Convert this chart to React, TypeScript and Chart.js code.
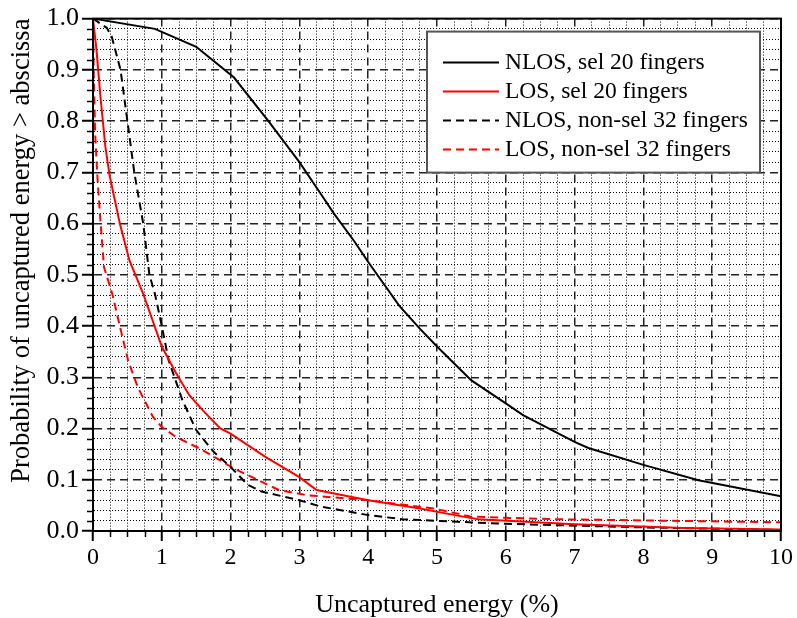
import React, { useEffect, useRef } from 'react';
import { Chart, registerables } from 'chart.js';
Chart.register(...registerables);

const FONT = '"Liberation Serif", "Times New Roman", serif';

const seriesLabels = [
  'NLOS, sel 20 fingers',
  'LOS, sel 20 fingers',
  'NLOS, non-sel 32 fingers',
  'LOS, non-sel 32 fingers',
];

const nlosSelX = [0, 0.9, 1.5, 2.05, 2.55, 3.0, 3.3, 3.5, 3.8, 4.0, 4.45, 4.75, 5.0, 5.5, 6.0, 6.25, 7.0, 7.2, 8.0, 8.8, 10];
const nlosSelY = [1.0, 0.98, 0.945, 0.885, 0.8, 0.72, 0.66, 0.62, 0.565, 0.525, 0.44, 0.395, 0.36, 0.294, 0.249, 0.226, 0.174, 0.162, 0.129, 0.099, 0.068];

const losSelX = [0, 0.05, 0.11, 0.18, 0.24, 0.39, 0.53, 0.73, 1.0, 1.2, 1.4, 1.6, 1.85, 2.0, 2.5, 3.0, 3.25, 4.0, 4.75, 5.3, 5.6, 7.0, 8.6, 10];
const losSelY = [1.0, 0.94, 0.845, 0.75, 0.695, 0.6, 0.528, 0.463, 0.36, 0.31, 0.265, 0.235, 0.2, 0.19, 0.145, 0.105, 0.08, 0.06, 0.044, 0.03, 0.023, 0.013, 0.006, 0.003];

const nlosNonSelX = [0, 0.2, 0.27, 0.4, 0.5, 0.6, 0.73, 0.82, 0.9, 1.0, 1.1, 1.3, 1.5, 1.75, 2.0, 2.25, 2.45, 3.0, 3.3, 4.0, 4.5, 5.3, 6.0, 8.0, 10];
const nlosNonSelY = [1.0, 0.982, 0.966, 0.9, 0.8, 0.7, 0.6, 0.5, 0.463, 0.4, 0.333, 0.255, 0.197, 0.155, 0.125, 0.09, 0.077, 0.06, 0.048, 0.031, 0.023, 0.018, 0.014, 0.007, 0.002];

const losNonSelX = [0, 0.01, 0.03, 0.06, 0.1, 0.16, 0.28, 0.39, 0.51, 0.65, 0.87, 1.0, 1.2, 1.55, 2.05, 2.7, 3.1, 4.0, 4.95, 5.5, 6.7, 10];
const losNonSelY = [1.0, 0.9, 0.78, 0.7, 0.62, 0.515, 0.463, 0.4, 0.333, 0.281, 0.223, 0.203, 0.184, 0.161, 0.122, 0.08, 0.07, 0.06, 0.044, 0.028, 0.023, 0.017];

const xTitle = 'Uncaptured energy (%)';
const yTitle = 'Probability of uncaptured energy > abscissa';

const pts = (xs: number[], ys: number[]) => xs.map((x, i) => ({ x, y: ys[i] }));

const isMajorX = (v: number) => Math.abs(v - Math.round(v)) < 1e-6;
const isMajorY = (v: number) => Math.abs(v * 10 - Math.round(v * 10)) < 1e-6;

const framePlugin = {
  id: 'frameAndMinorTicks',
  afterDatasetsDraw(chart: any) {
    const { ctx, chartArea } = chart;
    const { left, right, top, bottom } = chartArea;
    ctx.save();
    ctx.strokeStyle = '#000';
    ctx.lineWidth = 2;
    ctx.setLineDash([]);
    ctx.strokeRect(left, top, right - left, bottom - top);
    ctx.lineWidth = 1.5;
    const xs = chart.scales.x;
    xs.ticks.forEach((t: any) => {
      if (isMajorX(t.value)) return;
      const p = Math.round(xs.getPixelForValue(t.value)) + 0.5;
      ctx.beginPath();
      ctx.moveTo(p, bottom);
      ctx.lineTo(p, bottom + 6);
      ctx.stroke();
    });
    const ys = chart.scales.y;
    ys.ticks.forEach((t: any) => {
      if (isMajorY(t.value)) return;
      const p = Math.round(ys.getPixelForValue(t.value)) + 0.5;
      ctx.beginPath();
      ctx.moveTo(left - 6, p);
      ctx.lineTo(left, p);
      ctx.stroke();
    });
    ctx.restore();
  },
  afterDraw(chart: any) {
    const { ctx, chartArea } = chart;
    const x0 = chartArea.left + 334;
    const y0 = chartArea.top + 13;
    const w = 333;
    const h = 141;
    ctx.save();
    ctx.fillStyle = '#fff';
    ctx.fillRect(x0, y0, w, h);
    ctx.strokeStyle = '#555';
    ctx.lineWidth = 2;
    ctx.setLineDash([]);
    ctx.strokeRect(x0, y0, w, h);
    chart.data.datasets.forEach((ds: any, i: number) => {
      const y = Math.round(y0 + 30 + i * 29.2) + 0.5;
      ctx.strokeStyle = ds.borderColor;
      ctx.lineWidth = 2;
      ctx.setLineDash(ds.borderDash || []);
      ctx.beginPath();
      ctx.moveTo(x0 + 16, y);
      ctx.lineTo(x0 + 72, y);
      ctx.stroke();
      ctx.setLineDash([]);
      ctx.fillStyle = '#000';
      ctx.font = '23.5px ' + FONT;
      ctx.textBaseline = 'middle';
      ctx.textAlign = 'left';
      ctx.fillText(ds.label, x0 + 78, y);
    });
    ctx.restore();
  },
};

export default function App() {
  const ref = useRef<HTMLCanvasElement>(null);
  useEffect(() => {
    if (!ref.current) return;
    Chart.defaults.font.family = FONT;
    const chart = new Chart(ref.current, {
      type: 'line',
      data: {
        datasets: [
          { label: seriesLabels[0], data: pts(nlosSelX, nlosSelY), borderColor: '#000000', borderWidth: 2, pointRadius: 0, borderDash: [] },
          { label: seriesLabels[1], data: pts(losSelX, losSelY), borderColor: '#ff0000', borderWidth: 2, pointRadius: 0, borderDash: [] },
          { label: seriesLabels[2], data: pts(nlosNonSelX, nlosNonSelY), borderColor: '#000000', borderWidth: 2, pointRadius: 0, borderDash: [8, 5] },
          { label: seriesLabels[3], data: pts(losNonSelX, losNonSelY), borderColor: '#ff0000', borderWidth: 2, pointRadius: 0, borderDash: [8, 5] },
        ],
      },
      options: {
        responsive: false,
        animation: false,
        devicePixelRatio: 1,
        layout: { padding: { left: 0, right: 16, top: 18, bottom: 0 } },
        plugins: { legend: { display: false }, tooltip: { enabled: false } },
        elements: { line: { tension: 0 } },
        scales: {
          x: {
            type: 'linear',
            min: 0,
            max: 10,
            afterFit: (s: any) => { s.height = 87; },
            ticks: {
              stepSize: 0.25,
              autoSkip: false,
              maxRotation: 0,
              padding: 2,
              color: '#000',
              font: { size: 24, family: FONT },
              callback: (v: any) => (isMajorX(Number(v)) ? String(Math.round(Number(v))) : ''),
            },
            grid: {
              color: (c: any) => (c.tick && isMajorX(c.tick.value) ? '#222' : '#000'),
              lineWidth: (c: any) => (c.tick && isMajorX(c.tick.value) ? 1.5 : 1),
              tickLength: 10,
              tickWidth: 2,
              tickColor: (c: any) => (c.tick && isMajorX(c.tick.value) ? '#000' : 'rgba(0,0,0,0)'),
            },
            border: {
              display: true,
              color: '#000',
              width: 2,
              dash: (c: any) => (c.tick ? (isMajorX(c.tick.value) ? [8, 5] : [1, 2]) : []),
            },
            title: {
              display: true,
              text: xTitle,
              color: '#000',
              font: { size: 26, family: FONT, lineHeight: 1 },
              padding: { top: 0, bottom: 0 },
            },
          },
          y: {
            type: 'linear',
            min: 0,
            max: 1,
            afterFit: (s: any) => { s.width = 93; },
            ticks: {
              stepSize: 0.02,
              autoSkip: false,
              padding: 3,
              color: '#000',
              font: { size: 26, family: FONT },
              callback: (v: any) => (isMajorY(Number(v)) ? Number(v).toFixed(1) : ''),
            },
            grid: {
              color: (c: any) => (c.tick && isMajorY(c.tick.value) ? '#222' : '#000'),
              lineWidth: (c: any) => (c.tick && isMajorY(c.tick.value) ? 1.5 : 1),
              tickLength: 11,
              tickWidth: 2,
              tickColor: (c: any) => (c.tick && isMajorY(c.tick.value) ? '#000' : 'rgba(0,0,0,0)'),
            },
            border: {
              display: true,
              color: '#000',
              width: 2,
              dash: (c: any) => (c.tick ? (isMajorY(c.tick.value) ? [8, 5] : [1, 2]) : []),
            },
            title: {
              display: true,
              text: yTitle,
              align: 'end',
              color: '#000',
              font: { size: 26.5, family: FONT, lineHeight: 1.2 },
              padding: { top: 6, bottom: 0 },
            },
          },
        },
      },
      plugins: [framePlugin],
    } as any);
    return () => chart.destroy();
  }, []);
  return (
    <div style={{ position: 'absolute', left: 0, top: 0, width: 797, height: 618, background: '#fff' }}>
      <canvas ref={ref} width={797} height={618} style={{ display: 'block', width: 797, height: 618 }} />
    </div>
  );
}
